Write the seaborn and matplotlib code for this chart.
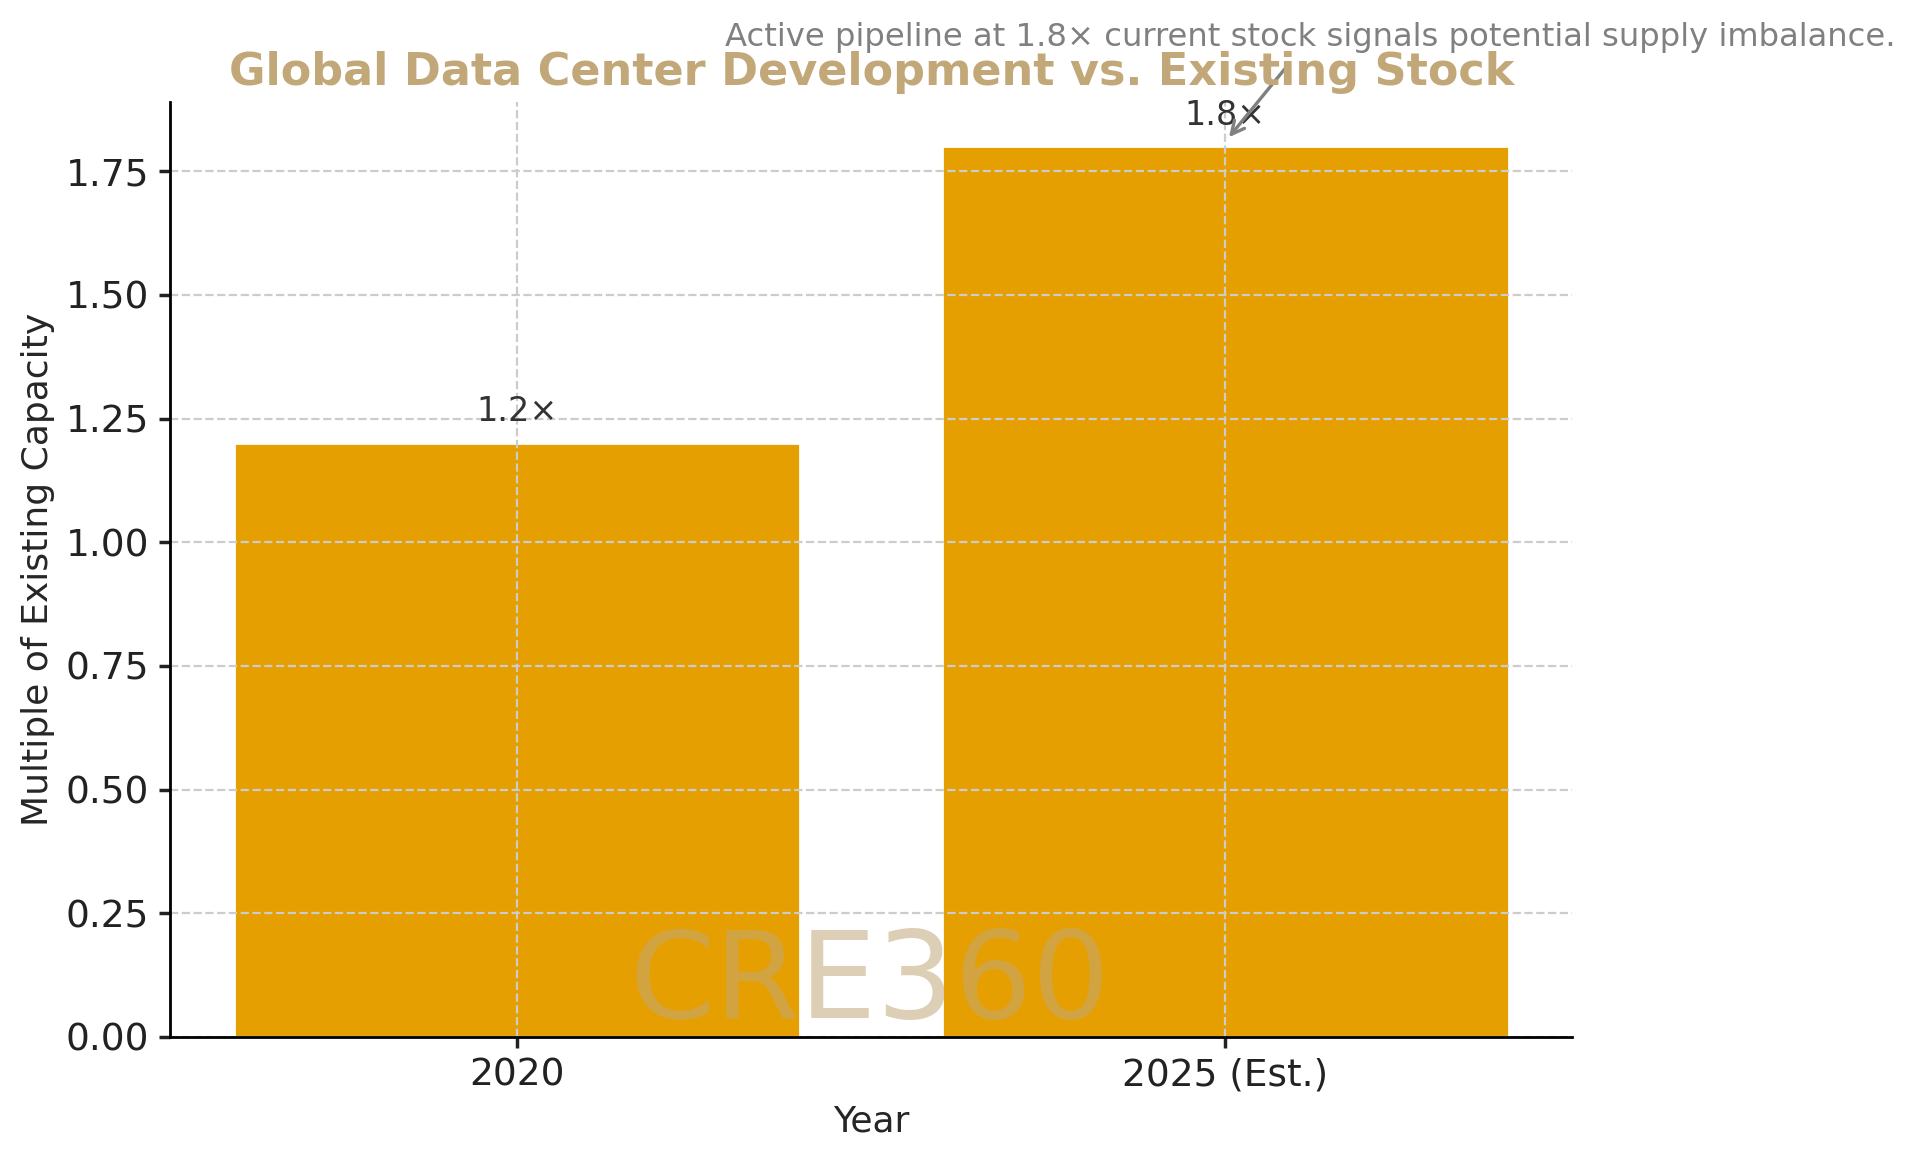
import matplotlib
matplotlib.use("Agg")
import matplotlib.pyplot as plt
import seaborn as sns
import pandas as pd

years = ["2020", "2025 (Est.)"]
multiples = [1.2, 1.8]
labels = ["1.2×", "1.8×"]

sns.set_theme(style="whitegrid")
plt.rcParams['font.family'] = ['DejaVu Sans']
fig = plt.figure(figsize=(9.6, 5.79), dpi=200)
ax = fig.add_axes([0.0886, 0.1045, 0.7304, 0.8075])
df = pd.DataFrame({"Year": years, "Multiple": multiples})
sns.barplot(data=df, x="Year", y="Multiple", color="#E69F00", saturation=1, width=0.8, ax=ax)
ax.set_xlim(-0.49, 1.49)
ax.set_ylim(0, 1.89)
ax.grid(True, linestyle="--", color="#cccccc", linewidth=0.8)
ax.set_axisbelow(False)
for s in ["top", "right"]:
    ax.spines[s].set_visible(False)
for s in ["left", "bottom"]:
    ax.spines[s].set_color("black"); ax.spines[s].set_linewidth(1.0); ax.spines[s].set_zorder(5)
ax.tick_params(axis="both", labelsize=13.5, colors="#222222", length=4, left=True, bottom=True)
ax.set_xlabel("Year", fontsize=13)
ax.set_ylabel("Multiple of Existing Capacity", fontsize=13)
for i, (v, l) in enumerate(zip(multiples, labels)):
    ax.text(i, v + 0.03, l, ha="center", va="bottom", fontsize=12, color="#333333")
ax.set_title("Global Data Center Development vs. Existing Stock", fontsize=16,
             fontweight="bold", color="#C2A878", pad=6)
ax.annotate("Active pipeline at 1.8× current stock signals potential supply imbalance.",
            xy=(1, 1.81), xytext=(1.12, 2.02), fontsize=11.6, color="gray", ha="center",
            va="center", annotation_clip=False,
            arrowprops=dict(arrowstyle="->", color="gray", lw=1.2))
fig.text(0.453, 0.15, "CRE360", fontsize=44, color="#C2A878", alpha=0.55,
         ha="center", va="center")
fig.savefig("out.png", dpi=200)
